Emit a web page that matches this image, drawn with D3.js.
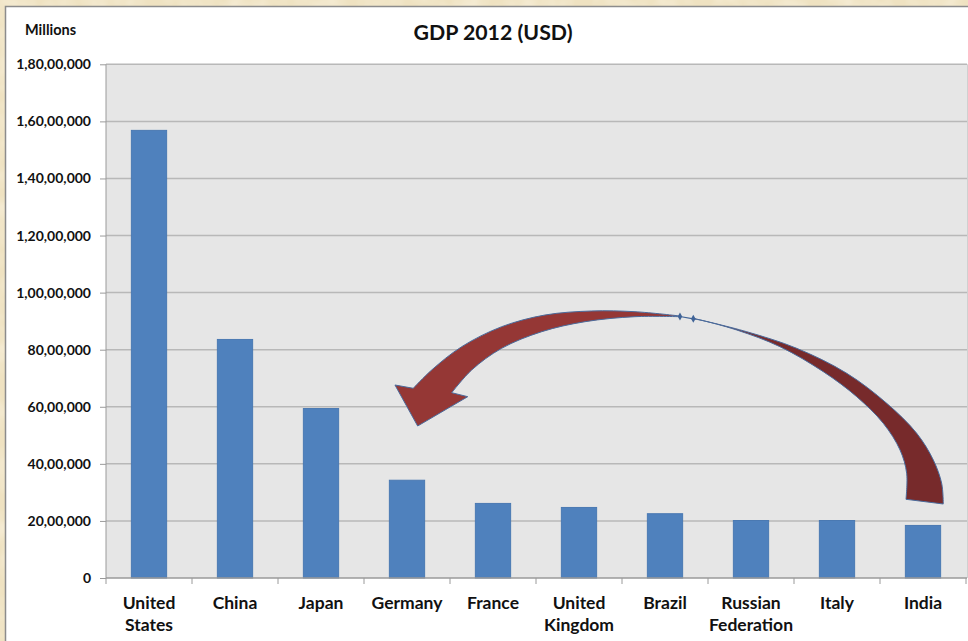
<!DOCTYPE html>
<html>
<head>
<meta charset="utf-8">
<script src="https://cdn.jsdelivr.net/npm/d3@7/dist/d3.min.js"></script>
<style>
  html, body { margin: 0; padding: 0; background: #f0e4c4; }
  svg { display: block; }
  text { font-family: Lato, "Open Sans", "DejaVu Sans", sans-serif; font-weight: bold; fill: #111; }
</style>
</head>
<body>
<svg id="chart" width="968" height="641"></svg>
<script>
// ---- data ----
const categories = ["United States", "China", "Japan", "Germany", "France",
  "United Kingdom", "Brazil", "Russian Federation", "Italy", "India"];
const gdpMillions = [15684750, 8358400, 5937767, 3425956, 2612878,
  2471784, 2252664, 2014775, 2014670, 1841710];
const yTickValues = [0, 2000000, 4000000, 6000000, 8000000, 10000000,
  12000000, 14000000, 16000000, 18000000];
const title = "GDP 2012 (USD)";
const unitLabel = "Millions";

// arrow annotation in data space: t = position in category units (0..10), v = value in millions of millions
const arrowLeftOuter = [[6.674, 9.180], [6.151, 9.331], [5.648, 9.356], [5.105, 9.215], [4.601, 8.806], [4.136, 8.105], [3.787, 7.288], [3.573, 6.647]];
const arrowHead = [[3.360, 6.763], [3.624, 5.326], [4.206, 6.353]];
const arrowLeftInner = [[4.020, 6.493], [4.252, 7.288], [4.601, 8.049], [5.066, 8.630], [5.570, 8.981], [6.151, 9.156], [6.674, 9.156]];
const arrowRightOuter = [[6.829, 9.100], [7.450, 8.630], [8.031, 8.049], [8.613, 7.173], [9.078, 6.121], [9.427, 5.070], [9.620, 4.135], [9.717, 3.318], [9.736, 2.593]];
const arrowRightInner = [[9.302, 2.758], [9.310, 3.669], [9.233, 4.485], [9.038, 5.421], [8.729, 6.353], [8.341, 7.229], [7.837, 8.105], [7.334, 8.690], [6.907, 9.040], [6.829, 9.075]];

// Indian digit grouping
function indian(n) {
  const s = String(Math.round(n));
  if (s.length <= 3) return s;
  const last3 = s.slice(-3);
  let rest = s.slice(0, -3);
  const parts = [];
  while (rest.length > 2) { parts.unshift(rest.slice(-2)); rest = rest.slice(0, -2); }
  if (rest.length) parts.unshift(rest);
  return parts.join(",") + "," + last3;
}

const W = 968, H = 641;
const svg = d3.select("#chart");
const defs = svg.append("defs");

// parchment texture
const f = defs.append("filter").attr("id", "paper").attr("x", 0).attr("y", 0).attr("width", 1).attr("height", 1);
f.append("feTurbulence").attr("type", "fractalNoise").attr("baseFrequency", "0.035").attr("numOctaves", 3).attr("seed", 7).attr("result", "noise");
f.append("feColorMatrix").attr("in", "noise").attr("type", "matrix")
  .attr("values", "0 0 0 0 0.99  0 0 0 0 0.95  0 0 0 0 0.84  0.9 0 0 0 -0.35").attr("result", "spots");
f.append("feMerge").selectAll("feMergeNode").data(["SourceGraphic", "spots"]).join("feMergeNode").attr("in", d => d);

svg.append("rect").attr("width", W).attr("height", H).attr("fill", "#efe2c1");
svg.append("rect").attr("width", W).attr("height", H).attr("fill", "#efe2c1").attr("filter", "url(#paper)");

// chart frame
svg.append("rect").attr("x", 5.5).attr("y", 6.5).attr("width", W).attr("height", H)
  .attr("fill", "#ffffff").attr("stroke", "#8c8c8c").attr("stroke-width", 1.5);

const plot = { left: 106, right: 966, top: 64.3, bottom: 578 };

const x = d3.scaleBand().domain(categories).range([plot.left, plot.right])
  .paddingInner(0.59).paddingOuter(0.295);
const y = d3.scaleLinear().domain([0, 18000000]).range([plot.bottom, plot.top]);

// plot background
svg.append("rect").attr("x", plot.left).attr("y", plot.top)
  .attr("width", plot.right - plot.left + 1).attr("height", plot.bottom - plot.top)
  .attr("fill", "#e6e6e6");
svg.append("line").attr("x1", plot.right + 1.5).attr("x2", plot.right + 1.5)
  .attr("y1", plot.top).attr("y2", plot.bottom).attr("stroke", "#d0d0d0").attr("stroke-width", 1);

// gridlines
svg.append("g").selectAll("line").data(yTickValues.filter(d => d > 0)).join("line")
  .attr("x1", plot.left).attr("x2", plot.right + 1)
  .attr("y1", d => y(d)).attr("y2", d => y(d))
  .attr("stroke", "#b8b8b8").attr("stroke-width", 1.5);

// y axis
const yAxis = svg.append("g").attr("transform", `translate(${plot.left},0)`)
  .call(d3.axisLeft(y).tickValues(yTickValues).tickFormat(indian).tickSize(6).tickPadding(9));
yAxis.select(".domain").attr("stroke", "#9a9a9a").attr("d", `M0,${plot.top}V${plot.bottom}`);
yAxis.selectAll(".tick line").attr("stroke", "#9a9a9a");
yAxis.selectAll("text").attr("font-size", 14).attr("fill", "#111")
  .style("font-family", "Lato, 'Open Sans', sans-serif").style("font-weight", "bold");

// bars
svg.append("g").selectAll("rect").data(categories).join("rect")
  .attr("x", d => x(d)).attr("width", x.bandwidth())
  .attr("y", (d, i) => y(gdpMillions[i]))
  .attr("height", (d, i) => y(0) - y(gdpMillions[i]))
  .attr("fill", "#4f81bd").attr("stroke", "#4a79b2").attr("stroke-width", 1);

// x axis
const xAxisG = svg.append("g").attr("transform", `translate(0,${plot.bottom})`);
xAxisG.append("line").attr("x1", plot.left).attr("x2", plot.right + 1)
  .attr("y1", 0).attr("y2", 0).attr("stroke", "#9a9a9a").attr("stroke-width", 1.5);
const boundaries = d3.range(categories.length + 1).map(i => plot.left + i * x.step());
xAxisG.selectAll("line.tk").data(boundaries).join("line").attr("class", "tk")
  .attr("x1", d => d).attr("x2", d => d).attr("y1", 0).attr("y2", 6)
  .attr("stroke", "#9a9a9a");
const xl = xAxisG.selectAll("text.lbl").data(categories).join("text").attr("class", "lbl")
  .attr("text-anchor", "middle").attr("font-size", 17.5)
  .attr("x", d => x(d) + x.bandwidth() / 2);
xl.selectAll("tspan").data(d => d.split(" ")).join("tspan")
  .attr("x", function () { return d3.select(this.parentNode).attr("x"); })
  .attr("y", (d, i) => 30.5 + i * 22.5)
  .text(d => d);

// titles
svg.append("text").attr("x", 493).attr("y", 39.5).attr("text-anchor", "middle")
  .attr("font-size", 21.3).text(title);
svg.append("text").attr("x", 25).attr("y", 35).attr("font-size", 14.5).text(unitLabel);

// curved arrow annotation
const ax = t => plot.left + t * x.step();
const ay = v => y(v * 1000000);
const smooth = d3.line().x(d => ax(d[0])).y(d => ay(d[1])).curve(d3.curveCatmullRom.alpha(0.5));
const straight = pts => pts.map(p => `L${ax(p[0])},${ay(p[1])}`).join("");
const cont = pts => smooth(pts).replace(/^M/, "L");

const leftPath = smooth(arrowLeftOuter) + straight(arrowHead) + cont(arrowLeftInner) + "Z";
const rightPath = smooth(arrowRightOuter) + cont(arrowRightInner) + "Z";

svg.append("path").attr("d", rightPath).attr("fill", "#772a2b")
  .attr("stroke", "#4a6b9c").attr("stroke-width", 1).attr("stroke-linejoin", "round");
svg.append("path").attr("d", leftPath).attr("fill", "#953735")
  .attr("stroke", "#4a6b9c").attr("stroke-width", 1).attr("stroke-linejoin", "round");

// small connector with diamond handles at the joint
const joint = [arrowLeftOuter[0], arrowRightOuter[0]];
svg.append("line").attr("x1", ax(joint[0][0])).attr("y1", ay(joint[0][1]) + 0.5)
  .attr("x2", ax(joint[1][0])).attr("y2", ay(joint[1][1]) + 0.5)
  .attr("stroke", "#3f6397").attr("stroke-width", 1.2);
svg.append("g").selectAll("path").data(joint).join("path")
  .attr("d", d3.symbol(d3.symbolDiamond, 18))
  .attr("transform", d => `translate(${ax(d[0])},${ay(d[1]) + 0.5})`)
  .attr("fill", "#3f6397");
</script>
</body>
</html>
